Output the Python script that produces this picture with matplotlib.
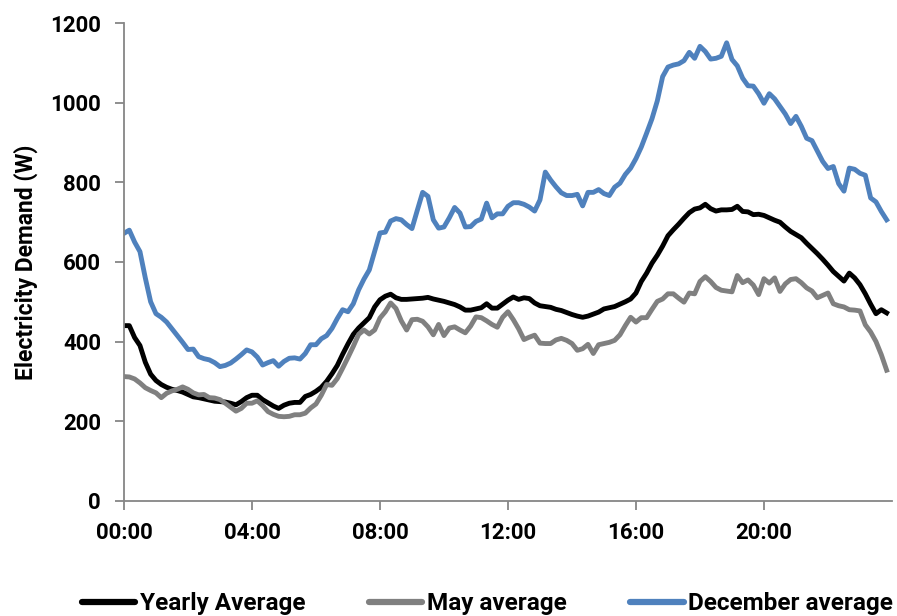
import numpy as np
import matplotlib
matplotlib.use("Agg")
import matplotlib.pyplot as plt
from matplotlib import font_manager as fm

# 10-minute resolution, 00:00 .. 23:50
yearly_avg = [
    440, 440, 410, 390, 348, 318, 302, 292, 285, 280, 277, 273,
    267, 261, 259, 256, 253, 250, 249, 248, 245, 241, 249, 259,
    265, 265, 254, 246, 238, 232, 240, 245, 247, 247, 262, 267,
    275, 285, 300, 319, 340, 368, 394, 418, 434, 447, 460, 487,
    505, 514, 519, 510, 506, 506, 507, 508, 509, 511, 507, 504,
    501, 497, 493, 487, 479, 479, 482, 485, 495, 484, 484, 494,
    504, 512, 506, 510, 508, 497, 490, 488, 486, 481, 478, 473,
    468, 464, 461, 464, 469, 474, 482, 485, 488, 494, 500, 507,
    522, 551, 572, 597, 617, 640, 666, 681, 695, 710, 724, 733,
    736, 745, 734, 728, 731, 731, 732, 740, 727, 726, 719, 720,
    717, 711, 705, 700, 688, 677, 669, 661, 647, 634, 621, 607,
    592, 576, 564, 552, 572, 560, 543, 520, 494, 470, 480, 472,
]
may_avg = [
    312, 311, 306, 296, 284, 277, 271, 259, 270, 276, 280, 286,
    280, 271, 266, 267, 259, 258, 254, 245, 235, 225, 232, 245,
    245, 251, 239, 224, 217, 212, 211, 212, 216, 216, 220, 233,
    243, 265, 292, 290, 307, 333, 360, 388, 418, 429, 419, 429,
    459, 475, 497, 483, 452, 429, 455, 456, 451, 437, 417, 443,
    415, 434, 437, 429, 422, 439, 462, 460, 452, 443, 436, 461,
    475, 455, 432, 405, 411, 416, 396, 395, 395, 404, 408, 403,
    395, 378, 382, 393, 370, 392, 395, 398, 403, 417, 440, 461,
    449, 460, 460, 481, 501, 507, 520, 520, 509, 499, 522, 520,
    551, 563, 551, 536, 529, 527, 525, 566, 548, 555, 542, 518,
    558, 547, 560, 526, 545, 556, 558, 548, 535, 527, 510, 516,
    522, 495, 490, 487, 480, 479, 477, 442, 424, 400, 367, 328,
]
december_avg = [
    672, 680, 650, 626, 560, 500, 470, 461, 449, 432, 415, 398,
    380, 381, 362, 357, 354, 347, 337, 340, 346, 356, 367, 379,
    374, 361, 341, 347, 352, 338, 350, 358, 359, 356, 370, 392,
    392, 407, 415, 433, 458, 480, 475, 495, 530, 557, 580, 627,
    673, 675, 703, 709, 706, 694, 684, 730, 775, 765, 706, 685,
    688, 711, 737, 723, 688, 689, 702, 708, 748, 711, 721, 721,
    740, 749, 749, 745, 738, 728, 756, 826, 806, 789, 774, 767,
    767, 770, 741, 775, 775, 782, 772, 767, 788, 798, 820, 836,
    860, 889, 924, 960, 1005, 1066, 1090, 1095, 1098, 1106, 1127, 1112,
    1142, 1129, 1110, 1112, 1117, 1151, 1109, 1093, 1062, 1043, 1042, 1023,
    999, 1023, 1010, 991, 972, 948, 966, 941, 911, 905, 879, 853,
    835, 840, 797, 778, 836, 833, 823, 818, 761, 751, 727, 706,
]
tick_labels = ["00:00", "04:00", "08:00", "12:00", "16:00", "20:00"]


def pick_bold_family(candidates):
    # first family that really ships an upright bold face
    for fam in candidates:
        try:
            path = fm.findfont(fm.FontProperties(family=fam, weight="bold"),
                               fallback_to_default=False)
        except ValueError:
            continue
        name = path.lower().rsplit("/", 1)[-1]
        if "bold" in name and "semi" not in name and "italic" not in name:
            return fam
    return "DejaVu Sans"


family = pick_bold_family(["Roboto", "Noto Sans", "Open Sans", "Liberation Sans"])
plt.rcParams["font.family"] = [family, "DejaVu Sans"]
plt.rcParams["font.weight"] = "bold"

fig = plt.figure(figsize=(8.97, 6.16), dpi=100)
ax = fig.add_axes([0.1382, 0.1872, 0.8562, 0.7750])

x = np.arange(len(yearly_avg))
ax.plot(x, yearly_avg, color="#000000", lw=3.5, label="Yearly Average", solid_joinstyle="round")
ax.plot(x, may_avg, color="#808080", lw=3.5, label="May average", solid_joinstyle="round")
ax.plot(x, december_avg, color="#4F81BD", lw=3.5, label="December average", solid_joinstyle="round")

ax.set_xlim(0, 144)
ax.set_ylim(0, 1200)
ax.set_xticks(np.arange(0, 144, 24))
ax.set_xticklabels(tick_labels)
ax.set_yticks(np.arange(0, 1201, 200))

for s in ["top", "right"]:
    ax.spines[s].set_visible(False)
for s in ["left", "bottom"]:
    ax.spines[s].set_color("#868686")
    ax.spines[s].set_linewidth(1.3)
ax.tick_params(axis="both", direction="out", length=6.5, width=1.3, color="#868686",
               labelsize=16)
ax.tick_params(axis="y", pad=10)
ax.tick_params(axis="x", pad=9)
for lab in ax.get_xticklabels() + ax.get_yticklabels():
    lab.set_fontweight("bold")

ax.set_ylabel("Electricity Demand (W)", fontsize=16.5, fontweight="bold")
ax.yaxis.set_label_coords(-0.112, 0.5)

leg = fig.legend(loc="center", bbox_to_anchor=(0.5435, 0.02), ncol=3, frameon=False,
                 handlelength=2.2, columnspacing=2.6, handletextpad=0.2,
                 prop={"size": 17.5, "weight": "bold"})
for h in leg.legend_handles:
    h.set_linewidth(4.5)
    h.set_solid_capstyle("round")

fig.savefig("out.png", dpi=100)
